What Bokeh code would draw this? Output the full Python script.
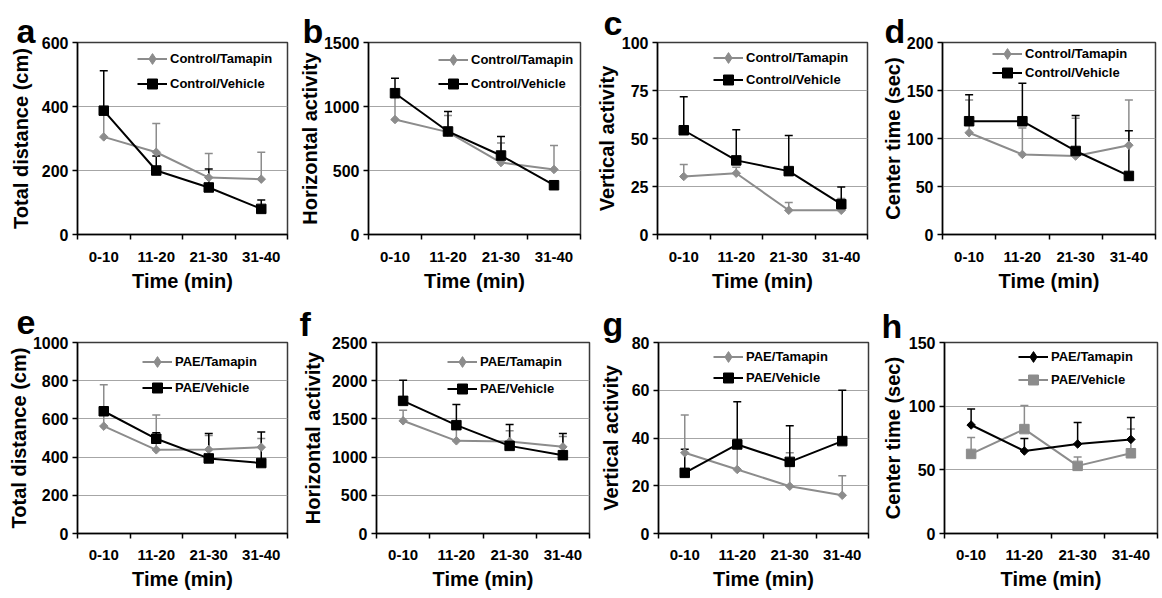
from math import pi
from bokeh.plotting import figure
from bokeh.models import (ColumnDataSource, Range1d, FixedTicker, Whisker, TeeHead,
                          Legend, LegendItem, Label)
from bokeh.layouts import column, row
from bokeh.embed import file_html
from bokeh.resources import INLINE

# ---------------- data ----------------
categories = ["0-10", "11-20", "21-30", "31-40"]
x_label = "Time (min)"
control_names = ["Control/Tamapin", "Control/Vehicle"]
pae_names = ["PAE/Tamapin", "PAE/Vehicle"]

a_ylabel = "Total distance (cm)"
a_yticks = [0, 200, 400, 600]
a_tamapin = [305, 257, 178, 173]
a_tamapin_top = [380, 347, 253, 257]
a_vehicle = [387, 200, 147, 80]
a_vehicle_top = [512, 245, 205, 108]

b_ylabel = "Horizontal activity"
b_yticks = [0, 500, 1000, 1500]
b_tamapin = [898, 800, 562, 508]
b_tamapin_top = [1070, 930, 715, 695]
b_vehicle = [1104, 805, 617, 385]
b_vehicle_top = [1221, 961, 766, 420]

c_ylabel = "Vertical activity"
c_yticks = [0, 25, 50, 75, 100]
c_tamapin = [30.2, 31.9, 12.6, 12.6]
c_tamapin_top = [36.5, 35, 16.7, 18.8]
c_vehicle = [54.3, 38.6, 33.0, 15.8]
c_vehicle_top = [71.7, 54.5, 51.5, 24.7]

d_ylabel = "Center time (sec)"
d_yticks = [0, 50, 100, 150, 200]
d_tamapin = [106, 83.4, 81.7, 93]
d_tamapin_top = [140, 111, 121, 140]
d_vehicle = [118, 118, 87, 61]
d_vehicle_top = [145.5, 157.6, 124, 108]

e_ylabel = "Total distance (cm)"
e_yticks = [0, 200, 400, 600, 800, 1000]
e_tamapin = [562, 438, 440, 452]
e_tamapin_top = [779, 621, 513, 497]
e_vehicle = [640, 496, 393, 369]
e_vehicle_top = [660, 527, 523, 532]

f_ylabel = "Horizontal activity"
f_yticks = [0, 500, 1000, 1500, 2000, 2500]
f_tamapin = [1475, 1213, 1204, 1134]
f_tamapin_top = [1614, 1380, 1344, 1270]
f_vehicle = [1736, 1418, 1147, 1025]
f_vehicle_top = [2007, 1688, 1427, 1309]

g_ylabel = "Vertical activity"
g_yticks = [0, 20, 40, 60, 80]
g_tamapin = [33.8, 26.8, 19.8, 16.0]
g_tamapin_top = [49.6, 39.5, 33.8, 24.2]
g_vehicle = [25.4, 37.3, 30.0, 38.7]
g_vehicle_top = [35.3, 55.2, 45.1, 60.0]

h_ylabel = "Center time (sec)"
h_yticks = [0, 50, 100, 150]
h_tamapin = [85.2, 64.8, 70.3, 73.9]
h_tamapin_top = [97.7, 74.7, 87.2, 91.1]
h_vehicle = [62.5, 82.0, 53.1, 63.0]
h_vehicle_top = [75.3, 100.5, 60.0, 82.0]

# ---------------- style ----------------
FONT = "Liberation Sans"
GRAY = "#8c8c8c"
BLACK = "#000000"
GRID = "#a6a6a6"


def make_panel(letter, ylabel, yticks, tam, tam_top, veh, veh_top, names, swap, lay):
    W, H = lay["W"], lay["H"]
    ml, mr, mt, mb = lay["ml"], lay["mr"], lay["mt"], lay["mb"]
    fx, fy = lay["fx"], lay["fy"]
    frame_left = fx + ml
    frame_top = fy + mt
    frame_bottom = fy + H - mb

    p = figure(width=W, height=H, output_backend="svg", toolbar_location=None, title=None,
               x_range=Range1d(0, len(categories)),
               y_range=Range1d(yticks[0], yticks[-1]),
               min_border_left=ml, min_border_right=mr,
               min_border_top=mt, min_border_bottom=mb)
    p.background_fill_color = "white"
    p.border_fill_color = "white"
    p.outline_line_color = "#3a3a3a"
    p.outline_line_width = 1.5

    xs = [i + 0.5 for i in range(len(categories))]

    # y axis
    yax = p.yaxis[0]
    yax.ticker = FixedTicker(ticks=yticks)
    yax.axis_label = ylabel
    yax.axis_label_text_font = FONT
    yax.axis_label_text_font_size = "20px"
    yax.axis_label_text_font_style = "bold"
    yax.axis_label_text_color = "black"
    yax.axis_label_standoff = lay["ystand"]
    yax.major_label_text_font = FONT
    yax.major_label_text_font_size = "16px"
    yax.major_label_text_font_style = "bold"
    yax.major_label_text_color = "black"
    yax.major_label_standoff = 4
    yax.major_tick_out = 5
    yax.major_tick_in = 0
    yax.minor_tick_line_color = None
    yax.axis_line_width = 1.5
    yax.axis_line_color = "black"
    yax.major_tick_line_width = 1.5
    yax.major_tick_line_color = "black"

    # x axis: labels at category centres, ticks at category boundaries
    xax = p.xaxis[0]
    xax.ticker = FixedTicker(ticks=xs, minor_ticks=list(range(len(categories) + 1)))
    xax.major_label_overrides = {x: c for x, c in zip(xs, categories)}
    xax.major_tick_line_color = None
    xax.major_tick_out = 0
    xax.major_tick_in = 0
    xax.minor_tick_out = 5
    xax.minor_tick_in = 0
    xax.minor_tick_line_color = "black"
    xax.minor_tick_line_width = 1.5
    xax.axis_line_width = 1.5
    xax.axis_line_color = "black"
    xax.major_label_text_font = FONT
    xax.major_label_text_font_size = "15px"
    xax.major_label_text_font_style = "bold"
    xax.major_label_text_color = "black"
    xax.major_label_standoff = lay["xstand"]
    xax.axis_label = x_label
    xax.axis_label_text_font = FONT
    xax.axis_label_text_font_size = "20px"
    xax.axis_label_text_font_style = "bold"
    xax.axis_label_text_color = "black"
    xax.axis_label_standoff = 5

    p.xgrid.visible = False
    p.ygrid.ticker = FixedTicker(ticks=yticks)
    p.ygrid.grid_line_color = GRID
    p.ygrid.grid_line_width = 1.2

    tam_color = BLACK if swap else GRAY
    veh_color = GRAY if swap else BLACK
    series = [
        dict(src=ColumnDataSource(dict(x=xs, y=tam, top=tam_top)), color=tam_color,
             angle=pi / 4, size=6, label=names[0], lgh=27, legend_marker="diamond"),
        dict(src=ColumnDataSource(dict(x=xs, y=veh, top=veh_top)), color=veh_color,
             angle=0, size=9.5, label=names[1], lgh=25, legend_marker=None),
    ]
    order = sorted(series, key=lambda s: s["color"] == BLACK)  # gray first, black on top
    for s in order:
        p.add_layout(Whisker(source=s["src"], base="x", lower="y", upper="top",
                             dimension="height", line_color=s["color"], line_width=1.5,
                             upper_head=TeeHead(size=8, line_color=s["color"], line_width=1.5),
                             lower_head=None, level="underlay"))
    for s in order:
        s["line"] = p.line("x", "y", source=s["src"], line_color=s["color"], line_width=2)
        s["pts"] = p.scatter("x", "y", source=s["src"], marker="square", size=s["size"],
                             angle=s["angle"], fill_color=s["color"], line_color=s["color"])
        if s["legend_marker"]:
            # legend-only glyph (legends draw markers unrotated)
            s["lpts"] = p.scatter("x", "y", source=s["src"], marker=s["legend_marker"],
                                  size=s["size"], fill_color=s["color"],
                                  line_color=s["color"], visible=False)
        else:
            s["lpts"] = s["pts"]

    for i, s in enumerate(series):
        cy = lay["leg_y"][i]
        gh = s["lgh"]
        leg = Legend(items=[LegendItem(label=s["label"], renderers=[s["line"], s["lpts"]])],
                     location=(lay["leg_x"] - frame_left, frame_bottom - (cy + gh / 2)),
                     glyph_width=30, glyph_height=gh, label_height=gh,
                     padding=0, margin=0, spacing=0, label_standoff=3,
                     border_line_color=None, background_fill_alpha=0,
                     label_text_font=FONT, label_text_font_size="13px",
                     label_text_font_style="bold", label_text_color="black")
        p.add_layout(leg)

    p.add_layout(Label(x=lay["lx"] - frame_left, y=frame_top - lay["lb"],
                       x_units="screen", y_units="screen", text=letter,
                       text_font=FONT, text_font_size="34px", text_font_style="bold",
                       text_baseline="alphabetic", text_align="left", text_color="black"),
                 "above")
    return p


R1 = dict(fy=0, H=300, mt=42, mb=66, xstand=12)
R2 = dict(fy=300, H=297, mt=42, mb=64, xstand=11)

lay_a = dict(R1, fx=0, W=295, ml=77, mr=8, ystand=7, leg_x=137, leg_y=[58, 83], lx=16, lb=30)
lay_b = dict(R1, fx=295, W=297, ml=73, mr=12, ystand=0, leg_x=438, leg_y=[59, 83], lx=302, lb=30)
lay_c = dict(R1, fx=592, W=280, ml=64, mr=5, ystand=1, leg_x=712, leg_y=[57, 79], lx=602, lb=22)
lay_d = dict(R1, fx=872, W=289, ml=70, mr=6, ystand=0, leg_x=992, leg_y=[53, 72], lx=884, lb=30)
lay_e = dict(R2, fx=0, W=295, ml=77, mr=8, ystand=0, leg_x=142, leg_y=[361, 387], lx=16, lb=322)
lay_f = dict(R2, fx=295, W=297, ml=81, mr=3, ystand=5, leg_x=447, leg_y=[361, 388], lx=299, lb=323)
lay_g = dict(R2, fx=592, W=280, ml=66, mr=4, ystand=7, leg_x=713, leg_y=[356, 377], lx=602, lb=323)
lay_h = dict(R2, fx=872, W=289, ml=72, mr=4, ystand=2, leg_x=1018, leg_y=[356, 379], lx=881, lb=325)

pa = make_panel("a", a_ylabel, a_yticks, a_tamapin, a_tamapin_top, a_vehicle, a_vehicle_top, control_names, False, lay_a)
pb = make_panel("b", b_ylabel, b_yticks, b_tamapin, b_tamapin_top, b_vehicle, b_vehicle_top, control_names, False, lay_b)
pc = make_panel("c", c_ylabel, c_yticks, c_tamapin, c_tamapin_top, c_vehicle, c_vehicle_top, control_names, False, lay_c)
pd = make_panel("d", d_ylabel, d_yticks, d_tamapin, d_tamapin_top, d_vehicle, d_vehicle_top, control_names, False, lay_d)
pe = make_panel("e", e_ylabel, e_yticks, e_tamapin, e_tamapin_top, e_vehicle, e_vehicle_top, pae_names, False, lay_e)
pf = make_panel("f", f_ylabel, f_yticks, f_tamapin, f_tamapin_top, f_vehicle, f_vehicle_top, pae_names, False, lay_f)
pg = make_panel("g", g_ylabel, g_yticks, g_tamapin, g_tamapin_top, g_vehicle, g_vehicle_top, pae_names, False, lay_g)
ph = make_panel("h", h_ylabel, h_yticks, h_tamapin, h_tamapin_top, h_vehicle, h_vehicle_top, pae_names, True, lay_h)

layout = column(row(pa, pb, pc, pd), row(pe, pf, pg, ph))
open("out.html", "w").write(file_html(layout, INLINE))
